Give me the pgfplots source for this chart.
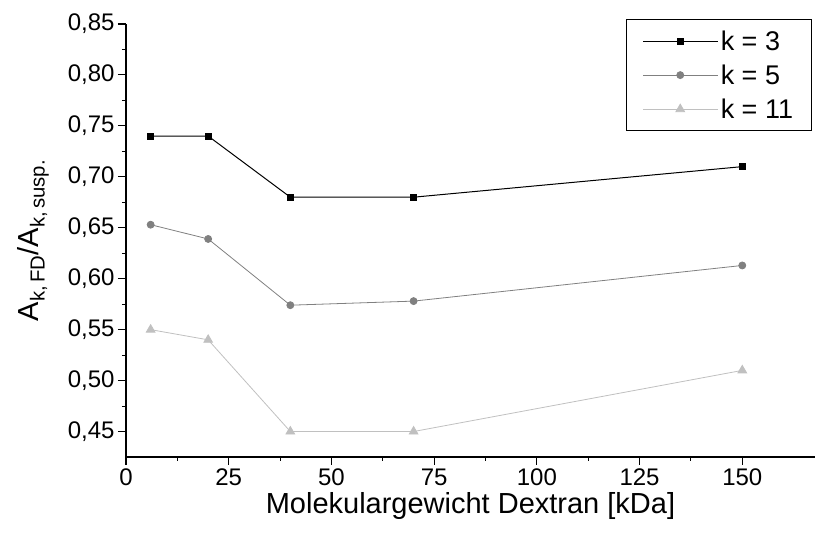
\documentclass[border=0pt]{standalone}
\usepackage{pgfplots}
\pgfplotsset{compat=1.18}
\usepackage{fontspec}
\setmainfont{Liberation Sans}
\definecolor{cfive}{HTML}{808080}
\definecolor{celeven}{HTML}{C0C0C0}
\begin{document}
\begin{tikzpicture}
\begin{axis}[
  at={(0pt,0pt)}, anchor=south west,
  scale only axis,
  width=689pt, height=433pt,
  xmin=0, xmax=167.7,
  ymin=0.425, ymax=0.85,
  axis lines*=left,
  axis line style={line width=1.2pt},
  xtick={0,25,...,150},
  ytick={0.45,0.50,...,0.86},
  minor x tick num=1,
  minor y tick num=1,
  tick align=outside,
  major tick length=8pt,
  minor tick length=4pt,
  tick style={line width=1.1pt, black},
  xticklabels={0,25,50,75,100,125,150},
  yticklabels={{0,45},{0,50},{0,55},{0,60},{0,65},{0,70},{0,75},{0,80},{0,85}},
  xticklabel style={font=\fontsize{24}{28}\selectfont},
  yticklabel style={font=\fontsize{24}{28}\selectfont},
  xlabel={Molekulargewicht Dextran [kDa]},
  ylabel={A\textsubscript{k,\,FD}/A\textsubscript{k,\,susp.}},
  xlabel style={font=\fontsize{29}{32}\selectfont},
  ylabel style={font=\fontsize{29}{32}\selectfont, yshift=12pt},
  legend style={at={(0.995,1.0115)}, anchor=north east, draw=black, line width=1pt,
    font=\fontsize{27}{30}\selectfont, inner xsep=16pt, inner ysep=9pt,
    row sep=9pt},
  legend cell align=left,
  legend image code/.code={\draw[mark repeat=2,mark phase=2,#1] plot coordinates {(0pt,0pt) (37pt,0pt) (75pt,0pt)};},
]
\addplot[black, line width=1pt, mark=square*, mark size=3pt, mark options={solid, fill=black}]
  coordinates {(6,0.740) (20,0.740) (40,0.680) (70,0.680) (150,0.710)};
\addlegendentry{k = 3}
\addplot[cfive, line width=0.8pt, mark=*, mark size=3.5pt, mark options={solid, fill=cfive}]
  coordinates {(6,0.653) (20,0.639) (40,0.574) (70,0.578) (150,0.613)};
\addlegendentry{k = 5}
\addplot[celeven, line width=0.8pt, mark=triangle*, mark size=5pt, mark options={solid, fill=celeven}]
  coordinates {(6,0.550) (20,0.540) (40,0.450) (70,0.450) (150,0.510)};
\addlegendentry{k = 11}
\end{axis}
\pgfresetboundingbox
\path[use as bounding box] (-126pt,-78pt) rectangle (689pt,457pt);
\end{tikzpicture}
\end{document}
